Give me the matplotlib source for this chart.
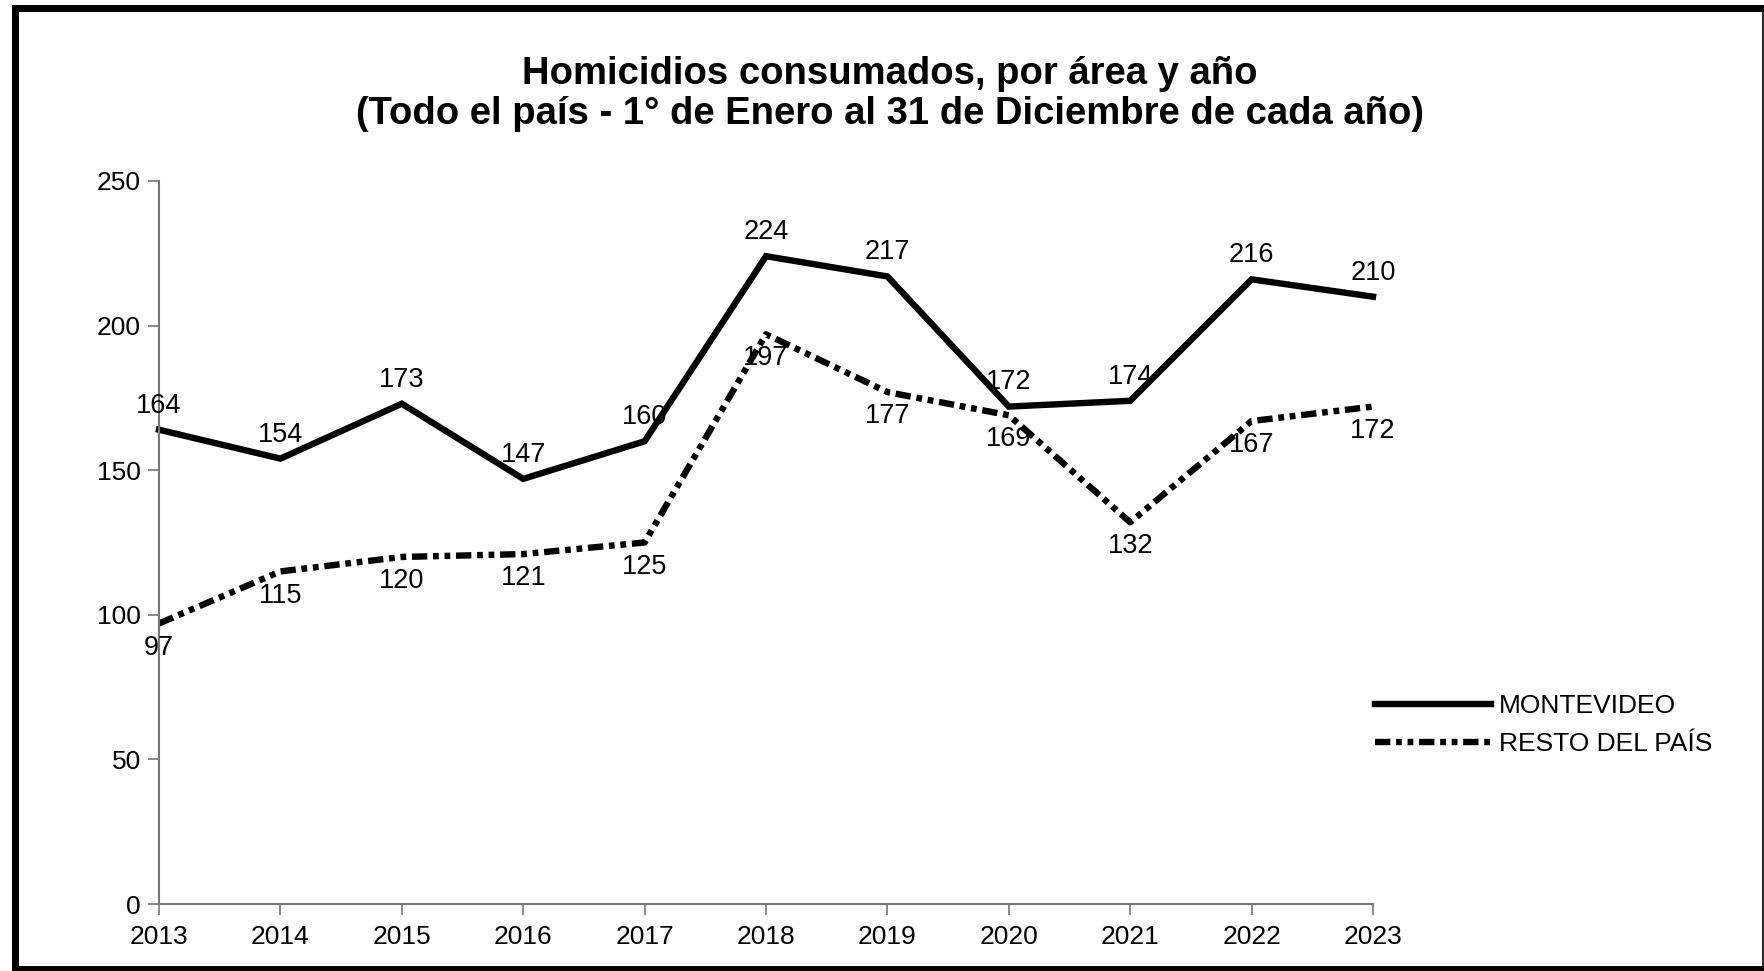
import matplotlib
matplotlib.use("Agg")
import matplotlib.pyplot as plt
from matplotlib.lines import Line2D

plt.rcParams["font.family"] = ["Liberation Sans", "DejaVu Sans"]

years = [2013, 2014, 2015, 2016, 2017, 2018, 2019, 2020, 2021, 2022, 2023]
montevideo = [164, 154, 173, 147, 160, 224, 217, 172, 174, 216, 210]
resto = [97, 115, 120, 121, 125, 197, 177, 169, 132, 167, 172]
yticks = [0, 50, 100, 150, 200, 250]

W, H = 1765, 971
fig = plt.figure(figsize=(W / 100, H / 100), dpi=100)
fig.patch.set_facecolor("white")

ax = fig.add_axes([159 / W, (H - 904) / H, (1373 - 159) / W, (904 - 181) / H])

lm, = ax.plot(years, montevideo, color="black", lw=4.6, solid_joinstyle="miter",
              label="MONTEVIDEO", clip_on=False)
lr, = ax.plot(years, resto, color="black", lw=4.6, label="RESTO DEL PAÍS",
              dashes=(2.4, 0.9, 0.9, 0.9, 0.9, 0.9), clip_on=False)

for x, y in zip(years, montevideo):
    ax.annotate(str(y), (x, y), xytext=(0, 8), textcoords="offset points",
                ha="center", va="bottom", fontsize=19.5)
for x, y in zip(years, resto):
    ax.annotate(str(y), (x, y), xytext=(0, -8), textcoords="offset points",
                ha="center", va="top", fontsize=19.5)

ax.set_xlim(2013, 2023)
ax.set_ylim(0, 250)
ax.set_xticks(years)
ax.set_yticks(yticks)
ax.tick_params(axis="both", direction="out", length=8, width=1.2, color="#777777",
               labelsize=19)
ax.tick_params(axis="x", pad=7)
ax.tick_params(axis="y", pad=5)
for s in ["top", "right"]:
    ax.spines[s].set_visible(False)
for s in ["left", "bottom"]:
    ax.spines[s].set_color("#777777")
    ax.spines[s].set_linewidth(1.5)

fig.text(890 / W, 1 - 94 / H,
         "Homicidios consumados, por área y año\n(Todo el país - 1° de Enero al 31 de Diciembre de cada año)",
         ha="center", va="center", fontsize=27.5, fontweight="bold", linespacing=1.15)

fig.legend(handles=[lm, lr], loc="center left", bbox_to_anchor=(1375 / W, 1 - 725 / H),
           frameon=False, fontsize=19, handlelength=4.4, handletextpad=0.3,
           borderpad=0, borderaxespad=0, labelspacing=0.55)

# chart border
def fline(x0, y0, x1, y1, lw):
    fig.add_artist(Line2D([x0 / W, x1 / W], [1 - y0 / H, 1 - y1 / H], color="black",
                          lw=lw, transform=fig.transFigure, solid_capstyle="projecting"))

fline(15, 8.5, 1763, 8.5, 5)
fline(15, 8.5, 15, 968, 5)
fline(15, 968.5, 1763, 968.5, 5)
fline(1763, 8.5, 1763, 968, 1.2)

fig.savefig("out.png", dpi=100)
